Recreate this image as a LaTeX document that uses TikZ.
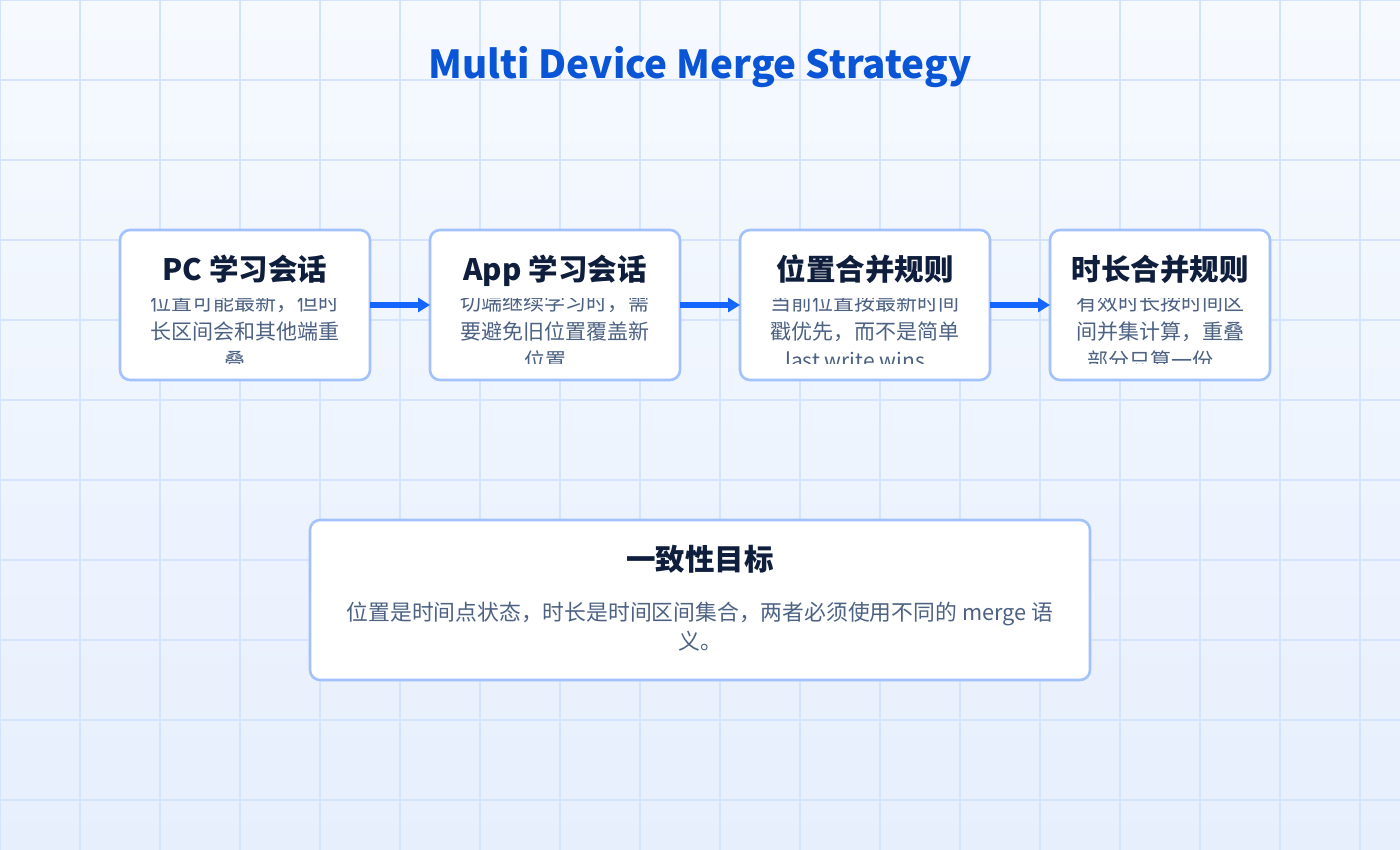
\documentclass[tikz,border=0pt]{standalone}
\usepackage{fontspec}
\setmainfont{Noto Sans CJK SC}
\usetikzlibrary{arrows.meta}

\definecolor{bgtop}{HTML}{F6FAFF}
\definecolor{bgbot}{HTML}{E7EFFD}
\definecolor{gridc}{HTML}{D4E4FD}
\definecolor{titleblue}{HTML}{0A55D6}
\definecolor{navy}{HTML}{0F1E3C}
\definecolor{descgrey}{HTML}{4D6283}
\definecolor{edgeblue}{HTML}{A3C1FA}
\definecolor{flowblue}{HTML}{1565FF}

\tikzset{
  card/.style={draw=edgeblue, line width=2.6pt, fill=white, rounded corners=10pt,
    inner sep=0pt, outer sep=0pt},
  cardtitle/.style={anchor=base, inner sep=0pt, text=navy,
    font=\fontsize{29.5pt}{34pt}\selectfont\bfseries},
  cardline/.style={anchor=base, inner sep=0pt, text=descgrey,
    font=\fontsize{21pt}{29pt}\selectfont},
  goalline/.style={anchor=base, inner sep=0pt, text=descgrey,
    font=\fontsize{21.8pt}{29pt}\selectfont},
  flow/.style={draw=flowblue, line width=6pt,
    -{Triangle[length=12pt,width=14pt]}},
}

\begin{document}
\begin{tikzpicture}[x=1pt, y=-1pt]
  \useasboundingbox (0,0) rectangle (1400,850);

  % background with faint grid
  \shade[top color=bgtop, bottom color=bgbot] (0,0) rectangle (1400,850);
  \foreach \gx in {0,80,...,1360}
    \draw[gridc, line width=2pt] (\gx,0) -- (\gx,850);
  \foreach \gy in {0,80,...,800}
    \draw[gridc, line width=2pt] (0,\gy) -- (1400,\gy);

  % heading
  \node[anchor=base, inner sep=0pt, text=titleblue,
        font=\fontsize{38.6pt}{44pt}\selectfont\bfseries] (heading) at (700,79)
        {Multi Device Merge Strategy};

  % the four session / rule cards
  \node[card, minimum width=250pt, minimum height=150pt] (pc)  at (245,305) {};
  \node[card, minimum width=250pt, minimum height=150pt] (app) at (555,305) {};
  \node[card, minimum width=250pt, minimum height=150pt] (pos) at (865,305) {};
  \node[card, minimum width=220pt, minimum height=150pt] (dur) at (1160,305) {};

  \node[cardtitle] (pcT)  at (245,280.5)  {PC 学习会话};
  \node[cardtitle] (appT) at (555,280.5)  {App 学习会话};
  \node[cardtitle] (posT) at (865,280.5)  {位置合并规则};
  \node[cardtitle] (durT) at (1160,280.5) {时长合并规则};

  % card descriptions, cut off by the text area of each card
  \begin{scope}
    \clip (122,299) rectangle (368,363);
    \node[cardline] (pc1) at (245,310.5) {位置可能最新，但时};
    \node[cardline] (pc2) at (245,339.5) {长区间会和其他端重};
    \node[cardline] (pc3) at (235,368.5) {叠};
  \end{scope}
  \begin{scope}
    \clip (432,299) rectangle (678,363);
    \node[cardline] (app1) at (555,310.5) {切端继续学习时，需};
    \node[cardline] (app2) at (555,339.5) {要避免旧位置覆盖新};
    \node[cardline] (app3) at (545,368.5) {位置};
  \end{scope}
  \begin{scope}
    \clip (742,299) rectangle (988,363);
    \node[cardline] (pos1) at (865,310.5) {当前位置按最新时间};
    \node[cardline] (pos2) at (865,339.5) {戳优先，而不是简单};
    \node[cardline] (pos3) at (855,368.5) {last write wins};
  \end{scope}
  \begin{scope}
    \clip (1052,299) rectangle (1268,363);
    \node[cardline] (dur1) at (1160,310.5) {有效时长按时间区};
    \node[cardline] (dur2) at (1160,339.5) {间并集计算，重叠};
    \node[cardline] (dur3) at (1150,368.5) {部分只算一份};
  \end{scope}

  % flow between the cards
  \draw[flow] (pc.east)  -- (app.west);
  \draw[flow] (app.east) -- (pos.west);
  \draw[flow] (pos.east) -- (dur.west);

  % goal card
  \node[card, minimum width=780pt, minimum height=160pt] (goal) at (700,600) {};
  \node[cardtitle] (goalT) at (700,570.5) {一致性目标};
  \node[goalline] (goal1) at (700,620) {位置是时间点状态，时长是时间区间集合，两者必须使用不同的 merge 语};
  \node[goalline] (goal2) at (700,649) {义。};
\end{tikzpicture}
\end{document}
